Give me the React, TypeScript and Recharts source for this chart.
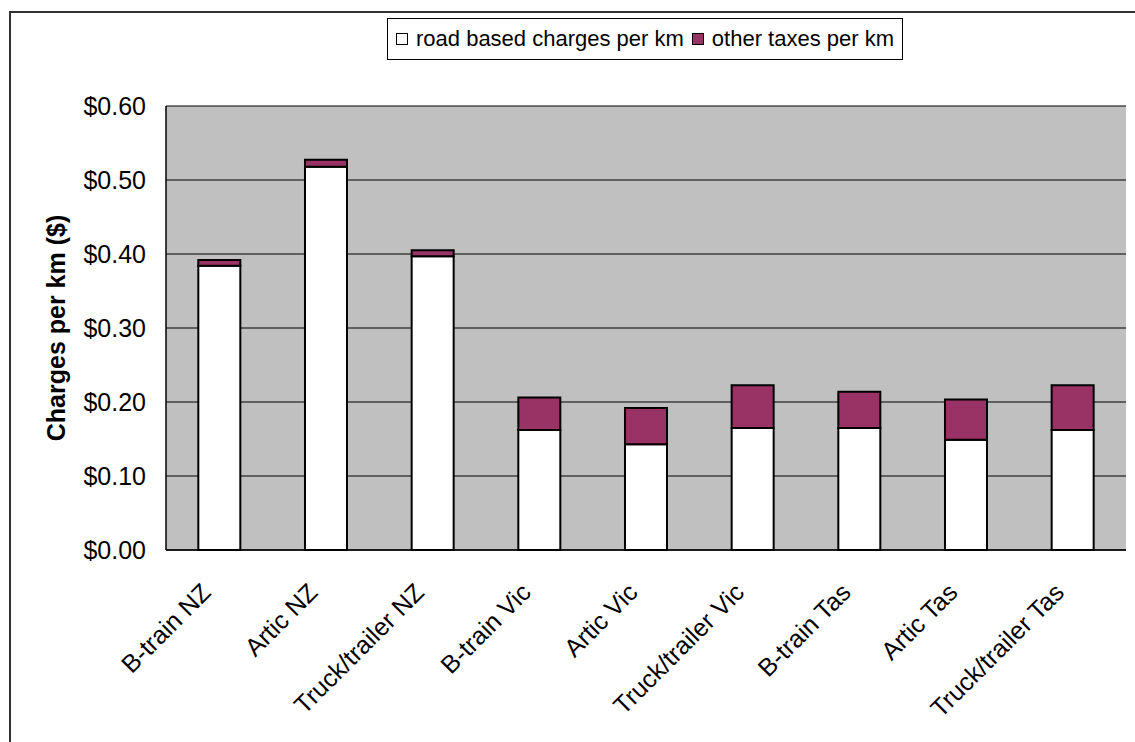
import React from 'react';
import { BarChart, Bar, XAxis, YAxis, CartesianGrid, Label } from 'recharts';

const categories = [
  'B-train NZ',
  'Artic NZ',
  'Truck/trailer NZ',
  'B-train Vic',
  'Artic Vic',
  'Truck/trailer Vic',
  'B-train Tas',
  'Artic Tas',
  'Truck/trailer Tas',
];
const roadCharges = [0.384, 0.518, 0.397, 0.162, 0.143, 0.165, 0.165, 0.149, 0.162];
const otherTaxes = [0.008, 0.0095, 0.008, 0.044, 0.049, 0.0575, 0.049, 0.0545, 0.0605];
const yTicks = [0, 0.1, 0.2, 0.3, 0.4, 0.5, 0.6];
const seriesNames = ['road based charges per km', 'other taxes per km'];
const seriesColors = ['#FFFFFF', '#993366'];
const yTitle = 'Charges per km ($)';

const data = categories.map((name, i) => ({
  name,
  road: roadCharges[i],
  other: otherTaxes[i],
}));

const FONT = 'Arial, "Liberation Sans", sans-serif';

const XTick = (props: any) => {
  const { x, y, payload } = props;
  const px = x - 7;
  const py = y + 36;
  return (
    <text
      x={px}
      y={py}
      transform={`rotate(-45 ${px} ${py})`}
      textAnchor="end"
      fontFamily={FONT}
      fontSize={25}
      fill="#000"
    >
      {payload.value}
    </text>
  );
};

const YTick = (props: any) => {
  const { y, payload } = props;
  return (
    <text
      x={146}
      y={y}
      textAnchor="end"
      dominantBaseline="central"
      fontFamily={FONT}
      fontSize={25}
      fill="#000"
    >
      {`$${Number(payload.value).toFixed(2)}`}
    </text>
  );
};

const YTitle = (props: any) => {
  const vb = props.viewBox || { x: 0, y: 106, width: 166, height: 444 };
  const cx = vb.x + 56;
  const cy = vb.y + vb.height / 2;
  return (
    <text
      x={cx}
      y={cy}
      transform={`rotate(-90 ${cx} ${cy})`}
      textAnchor="middle"
      dominantBaseline="central"
      fontFamily={FONT}
      fontSize={25}
      fontWeight="bold"
      fill="#000"
    >
      {yTitle}
    </text>
  );
};

const LegendBox = () => (
  <div
    style={{
      position: 'absolute',
      left: 387,
      top: 18,
      width: 514,
      height: 40,
      border: '1px solid #000',
      background: '#fff',
      display: 'flex',
      alignItems: 'center',
      fontFamily: FONT,
      fontSize: 22,
      color: '#000',
      boxSizing: 'content-box',
    }}
  >
    {seriesNames.map((n, i) => (
      <div key={n} style={{ display: 'flex', alignItems: 'center', marginLeft: i === 0 ? 8 : 8 }}>
        <div
          style={{
            width: 10,
            height: 10,
            border: '1.5px solid #000',
            background: seriesColors[i],
            marginRight: 8,
          }}
        />
        <span style={{ whiteSpace: 'nowrap' }}>{n}</span>
      </div>
    ))}
  </div>
);

export default function App() {
  return (
    <div
      style={{
        position: 'absolute',
        left: 0,
        top: 0,
        width: 1135,
        height: 742,
        overflow: 'hidden',
        background: '#fff',
      }}
    >
      <div
        style={{
          position: 'absolute',
          left: 9,
          top: 11,
          width: 1300,
          height: 900,
          border: '2px solid #333',
        }}
      />
      <div style={{ position: 'absolute', left: 0, top: 0 }}>
        <BarChart
          width={1135}
          height={742}
          data={data}
          margin={{ top: 106, right: 9, left: 0, bottom: 42 }}
          barCategoryGap="30.3%"
        >
          <CartesianGrid
            vertical={false}
            fill="#C0C0C0"
            fillOpacity={1}
            stroke="#000"
            strokeWidth={1}
          />
          <XAxis
            dataKey="name"
            interval={0}
            height={150}
            tick={<XTick />}
            tickLine={false}
            axisLine={{ stroke: '#000', strokeWidth: 1.5 }}
          />
          <XAxis
            xAxisId="top"
            orientation="top"
            dataKey="name"
            height={0}
            tick={false}
            tickLine={false}
            axisLine={{ stroke: '#808080', strokeWidth: 2 }}
          />
          <YAxis
            width={166}
            domain={[0, 0.6]}
            ticks={yTicks}
            interval={0}
            tick={<YTick />}
            tickLine={false}
            axisLine={{ stroke: '#000', strokeWidth: 1.5 }}
          >
            <Label content={<YTitle />} />
          </YAxis>
          <YAxis
            yAxisId="right"
            orientation="right"
            width={0}
            domain={[0, 0.6]}
            ticks={yTicks}
            tick={false}
            tickLine={false}
            axisLine={{ stroke: '#808080', strokeWidth: 2 }}
          />
          <Bar
            dataKey="road"
            name={seriesNames[0]}
            stackId="a"
            fill={seriesColors[0]}
            stroke="#000"
            strokeWidth={2}
            isAnimationActive={false}
          />
          <Bar
            dataKey="other"
            name={seriesNames[1]}
            stackId="a"
            fill={seriesColors[1]}
            stroke="#000"
            strokeWidth={2}
            isAnimationActive={false}
          />
        </BarChart>
      </div>
      <LegendBox />
    </div>
  );
}
